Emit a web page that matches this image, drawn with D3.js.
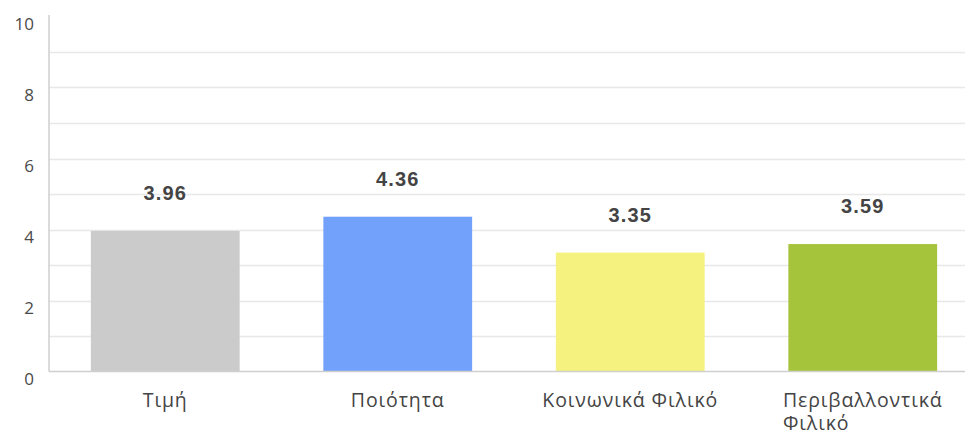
<!DOCTYPE html>
<html>
<head>
<meta charset="utf-8">
<script src="https://cdn.jsdelivr.net/npm/d3@7"></script>
<style>
  html, body { margin: 0; padding: 0; background: #fff; }
  svg { display: block; }
</style>
</head>
<body>
<svg id="chart" width="965" height="437"></svg>
<script>
// Average rating per purchase criterion
const categories = ["Τιμή", "Ποιότητα", "Κοινωνικά Φιλικό", "Περιβαλλοντικά Φιλικό"];
const values = [3.96, 4.36, 3.35, 3.59];
const colors = ["#cbcbcb", "#71a1fb", "#f6f27f", "#a6c33c"];
const yTicks = [0, 2, 4, 6, 8, 10];
const gridValues = [1, 2, 3, 4, 5, 6, 7, 8, 9];

(function () {
const svg = d3.select("#chart");
const plotLeft = 49, plotRight = 979, plotTop = 16.5, baseline = 371.5;

const x = d3.scaleBand().domain(categories).range([plotLeft, plotRight]).paddingInner(0.36).paddingOuter(0.18);
const y = d3.scaleLinear().domain([0, 10]).range([baseline, plotTop]);

// horizontal grid
svg.append("g").selectAll("line").data(gridValues).join("line")
  .attr("x1", plotLeft).attr("x2", 965)
  .attr("y1", d => Math.round(y(d)) + 0.5).attr("y2", d => Math.round(y(d)) + 0.5)
  .attr("stroke", "#e8e8e8").attr("stroke-width", 1.5);

// y tick labels, set slightly below their value
svg.append("g").selectAll("text").data(yTicks).join("text")
  .attr("x", 34).attr("y", d => y(d) + 8.5)
  .attr("text-anchor", "end").attr("dominant-baseline", "middle")
  .attr("font-family", "Open Sans, sans-serif").attr("font-size", 17)
  .attr("fill", "#4a4a4a")
  .text(d => d);

// bars
svg.append("g").selectAll("rect").data(values).join("rect")
  .attr("x", (d, i) => x(categories[i]))
  .attr("width", x.bandwidth())
  .attr("y", d => y(d))
  .attr("height", d => baseline - y(d))
  .attr("fill", (d, i) => colors[i]);

// axis lines
svg.append("line").attr("x1", plotLeft).attr("x2", plotLeft).attr("y1", 15).attr("y2", baseline)
  .attr("stroke", "#cfcfcf").attr("stroke-width", 1.5);
svg.append("line").attr("x1", plotLeft).attr("x2", 965).attr("y1", baseline).attr("y2", baseline)
  .attr("stroke", "#cfcfcf").attr("stroke-width", 1.5);

// value labels
svg.append("g").selectAll("text").data(values).join("text")
  .attr("x", (d, i) => x(categories[i]) + x.bandwidth() / 2)
  .attr("y", d => y(d) - 36)
  .attr("text-anchor", "middle").attr("dominant-baseline", "middle")
  .attr("font-family", "Liberation Sans, Arial, sans-serif").attr("font-weight", "bold")
  .attr("font-size", 20).attr("letter-spacing", 1.2)
  .attr("fill", "#444")
  .text(d => d.toFixed(2));

// category labels, wrapping long names onto a second line
const catG = svg.append("g");
categories.forEach((c, i) => {
  const cx = x(c) + x.bandwidth() / 2;
  const lines = c.length > 16 ? c.split(" ") : [c];
  const t = catG.append("text")
    .attr("font-family", "Open Sans, sans-serif").attr("font-size", 19.5)
    .attr("letter-spacing", 0.9)
    .attr("fill", "#444").attr("y", 402).attr("dominant-baseline", "middle");
  lines.forEach((ln, j) => t.append("tspan").attr("dy", j === 0 ? 0 : 23).text(ln));
  // left-align lines to the start of the widest one, centred on the bar
  const w = d3.max(t.selectAll("tspan").nodes(), n => n.getComputedTextLength());
  t.selectAll("tspan").attr("x", cx - w / 2);
});
})();
</script>
</body>
</html>
